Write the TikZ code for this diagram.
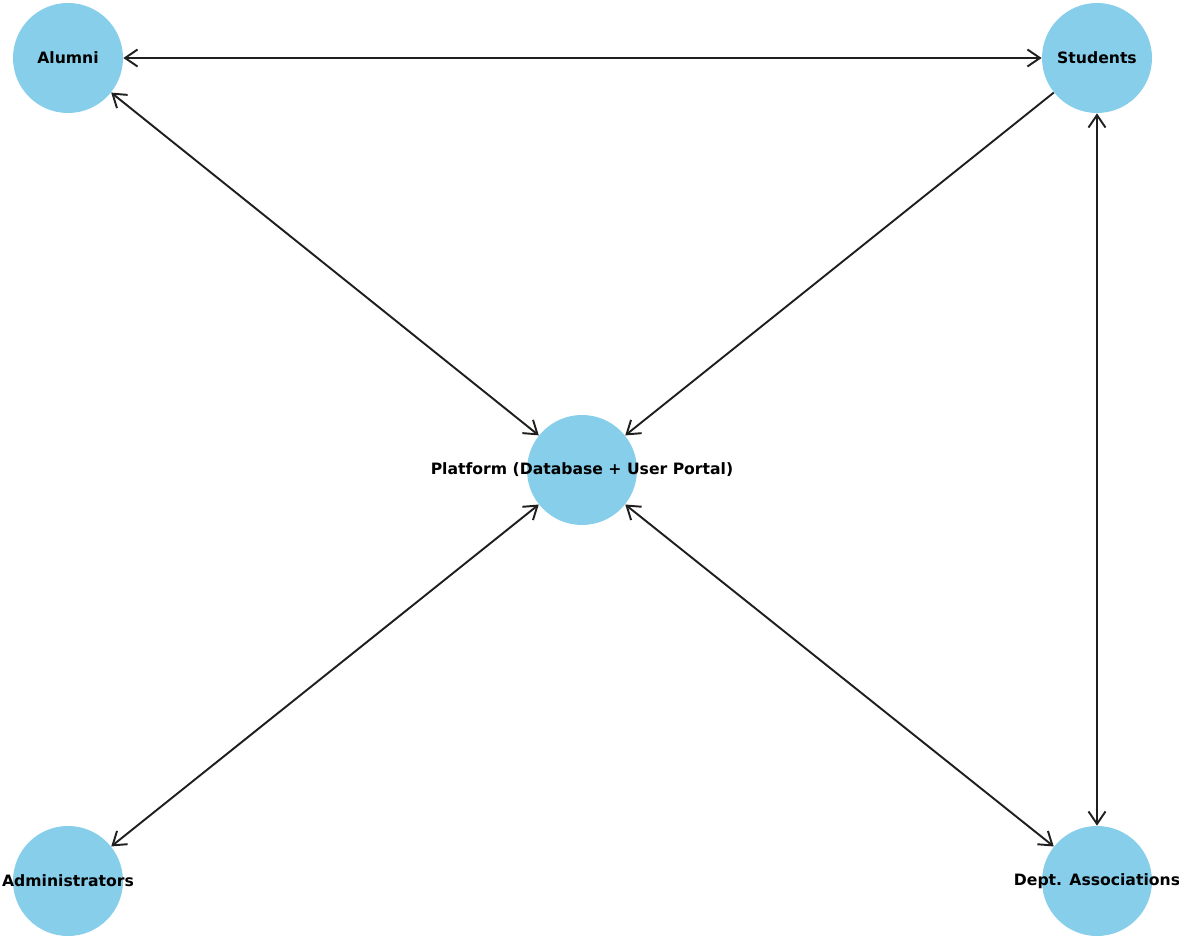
\documentclass[tikz,border=0pt]{standalone}
\usepackage{fontspec}
\setmainfont{DejaVu Sans}
\usetikzlibrary{arrows.meta}
\definecolor{skyblue}{HTML}{87CEEB}
\tikzset{
    actor/.style={circle, fill=skyblue, minimum size=2.2cm, inner sep=0pt},
    actortext/.style={font=\bfseries\fontsize{8.9}{10}\selectfont, text=black},
    link/.style={line width=1.1pt, draw=black!88, {Straight Barb[length=2.5mm,width=3.4mm]}-{Straight Barb[length=2.5mm,width=3.4mm]}},
    onelink/.style={line width=1.1pt, draw=black!88, -{Straight Barb[length=2.5mm,width=3.4mm]}}
}
\begin{document}
\begin{tikzpicture}
    \useasboundingbox (0,0) rectangle (23.58,18.78);

    \node[actor] (A) at (1.36,17.62) {};
    \node[actor] (S) at (21.94,17.62) {};
    \node[actor] (P) at (11.64,9.38) {};
    \node[actor] (Ad) at (1.36,1.16) {};
    \node[actor] (D) at (21.94,1.16) {};

    \draw[link] (A)--(S);
    \draw[link] (A)--(P);
    \draw[onelink] (S)--(P);
    \draw[link] (S)--(D);
    \draw[link] (Ad)--(P);
    \draw[link] (P)--(D);

    \node[actortext] (tA) at (A) {Alumni};
    \node[actortext] (tS) at (S) {Students};
    \node[actortext] (tP) at (P) {Platform (Database + User Portal)};
    \node[actortext] (tAd) at (Ad) {Administrators};
    \node[actortext] (tD) at (D) {Dept. Associations};

\end{tikzpicture}
\end{document}
